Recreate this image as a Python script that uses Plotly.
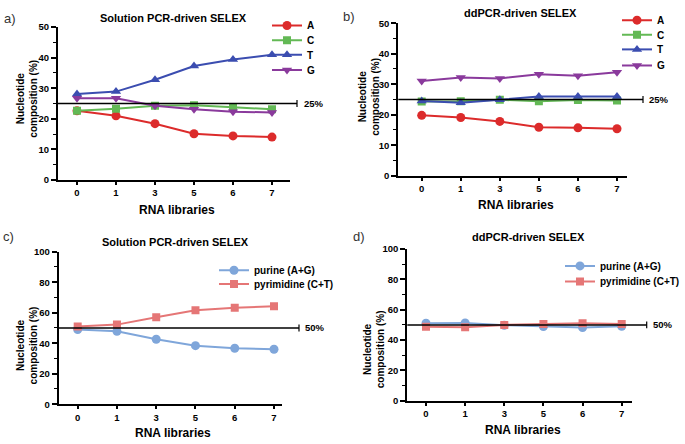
import plotly.graph_objects as go

W, H = 685, 444

libraries = ["0", "1", "3", "5", "6", "7"]

# Panel a: Solution PCR-driven SELEX, nucleotide composition (%)
sol_A = [22.6, 21.0, 18.4, 15.1, 14.4, 14.0]
sol_C = [22.6, 23.3, 24.3, 24.4, 23.8, 23.1]
sol_T = [28.1, 28.9, 32.8, 37.3, 39.4, 41.0]
sol_G = [26.7, 26.7, 24.3, 23.1, 22.3, 22.1]

# Panel b: ddPCR-driven SELEX
dd_A = [19.8, 19.1, 17.8, 15.9, 15.7, 15.4]
dd_C = [24.3, 24.4, 24.9, 24.4, 24.8, 24.7]
dd_T = [24.5, 23.9, 24.9, 26.0, 26.0, 26.0]
dd_G = [31.1, 32.2, 31.9, 33.3, 32.8, 33.9]

# Panel c: Solution PCR-driven, purine / pyrimidine
sol_pur = [49.0, 47.8, 42.6, 38.4, 36.7, 36.0]
sol_pyr = [51.0, 52.2, 57.1, 61.6, 63.3, 64.2]

# Panel d: ddPCR-driven, purine / pyrimidine
dd_pur = [51.1, 51.3, 49.8, 48.9, 48.3, 49.1]
dd_pyr = [48.7, 48.5, 50.0, 50.6, 51.1, 50.6]

ref_quarter = 25
ref_half = 50

FONT = "Liberation Sans, Arial, Helvetica, sans-serif"
COL = {"A": "#dc2b2b", "C": "#63b955", "T": "#3b4db0", "G": "#8a3a9c",
       "pur": "#7fa6da", "pyr": "#e57676"}


def fx(px):
    return px / W


def fy(py):
    return 1 - py / H


fig = go.Figure()

panels = [
    dict(ax="", x0=58, x1=290, top=21.7, bot=178.3, t0=77, t5=272,
         ymax=50, dtick=10, minor=5, ref=ref_quarter, refend=297, lab="25%", labx=302,
         title="Solution PCR-driven SELEX", titlex=173, titley=12,
         letter="a)", lx=2, ly=13, xtitley=209, ytx=27, yty=95,
         legx=288, legy=[20, 35, 50, 65.5]),
    dict(ax="2", x0=398.3, x1=627, top=17.7, bot=174, t0=421.7, t5=617,
         ymax=50, dtick=10, minor=5, ref=ref_quarter, refend=643, lab="25%", labx=647,
         title="ddPCR-driven SELEX", titlex=520, titley=7,
         letter="b)", lx=341, ly=11, xtitley=204, ytx=369, yty=93,
         legx=638, legy=[14.5, 29.5, 44.5, 61]),
    dict(ax="3", x0=58.7, x1=281.7, top=252, bot=408.3, t0=77.7, t5=274,
         ymax=100, dtick=20, minor=10, ref=ref_half, refend=299, lab="50%", labx=303,
         title="Solution PCR-driven SELEX", titlex=175, titley=242,
         letter="c)", lx=1, ly=236, xtitley=438, ytx=27, yty=348,
         legx=235, legy=[271, 285]),
    dict(ax="4", x0=407.3, x1=631.7, top=249.3, bot=404.7, t0=426, t5=621.7,
         ymax=100, dtick=20, minor=10, ref=ref_half, refend=646.7, lab="50%", labx=651,
         title="ddPCR-driven SELEX", titlex=528, titley=237,
         letter="d)", lx=351, ly=236, xtitley=435, ytx=374, yty=352,
         legx=581, legy=[266.5, 282.5]),
]

series = [
    [("A", sol_A, "circle", "A"), ("C", sol_C, "square", "C"),
     ("T", sol_T, "triangle-up", "T"), ("G", sol_G, "triangle-down", "G")],
    [("A", dd_A, "circle", "A"), ("C", dd_C, "square", "C"),
     ("T", dd_T, "triangle-up", "T"), ("G", dd_G, "triangle-down", "G")],
    [("purine (A+G)", sol_pur, "circle", "pur"), ("pyrimidine (C+T)", sol_pyr, "square", "pyr")],
    [("purine (A+G)", dd_pur, "circle", "pur"), ("pyrimidine (C+T)", dd_pyr, "square", "pyr")],
]

SIZES = {"circle": 9, "square": 8, "triangle-up": 9, "triangle-down": 9}

layout_extra = {}
shapes = []
annotations = []
leg_count = 0

for i, p in enumerate(panels):
    ax = p["ax"]
    unit = (p["t5"] - p["t0"]) / 5
    rng = [(p["x0"] - p["t0"]) / unit, (p["x1"] - p["t0"]) / unit]
    layout_extra["xaxis" + ax] = dict(
        domain=[fx(p["x0"]), fx(p["x1"])], anchor="y" + ax, type="category",
        categoryorder="array", categoryarray=libraries, range=rng,
        showline=True, linewidth=2, linecolor="black",
        ticks="outside", ticklen=3, tickwidth=1.5, tickcolor="black",
        showgrid=False, zeroline=False,
        tickfont=dict(family=FONT, size=9.5, color="black", weight="bold"),
    )
    layout_extra["yaxis" + ax] = dict(
        domain=[fy(p["bot"]), fy(p["top"])], anchor="x" + ax, range=[0, p["ymax"]],
        dtick=p["dtick"], tick0=0, showline=True, linewidth=2, linecolor="black",
        ticks="outside", ticklen=5, tickwidth=1.5, tickcolor="black",
        minor=dict(dtick=p["minor"], ticks="outside", ticklen=3, tickwidth=1.2, tickcolor="black"),
        showgrid=False, zeroline=False,
        tickfont=dict(family=FONT, size=9.5, color="black", weight="bold"),
    )
    for k, (name, vals, sym, ckey) in enumerate(series[i]):
        leg_count += 1
        legname = "legend" if leg_count == 1 else "legend%d" % leg_count
        c = COL[ckey]
        fig.add_trace(go.Scatter(
            x=libraries, y=vals, name=name, mode="lines+markers",
            line=dict(color=c, width=2), marker=dict(symbol=sym, size=SIZES[sym], color=c),
            xaxis="x" + ax, yaxis="y" + ax, legend=legname,
        ))
        layout_extra[legname] = dict(
            x=fx(p["legx"] - 21), y=fy(p["legy"][k]), xanchor="left", yanchor="middle",
            bgcolor="rgba(0,0,0,0)", borderwidth=0,
            font=dict(family=FONT, size=10, color="black", weight="bold"),
            itemwidth=30,
        )
    shapes.append(dict(type="line", xref="paper", yref="y" + ax,
                       x0=fx(p["x0"]), x1=fx(p["refend"]), y0=p["ref"], y1=p["ref"],
                       line=dict(color="black", width=1.5)))
    yref_px = p["bot"] - (p["bot"] - p["top"]) * p["ref"] / p["ymax"]
    shapes.append(dict(type="line", xref="paper", yref="paper",
                       x0=fx(p["refend"]), x1=fx(p["refend"]),
                       y0=fy(yref_px - 3.5), y1=fy(yref_px + 3.5),
                       line=dict(color="black", width=1.2)))
    annotations.append(dict(text=p["lab"], xref="paper", yref="paper",
                            x=fx(p["labx"]), y=fy(yref_px), xanchor="left", yanchor="middle",
                            showarrow=False,
                            font=dict(family=FONT, size=9.5, color="black", weight="bold")))
    annotations.append(dict(text=p["title"], xref="paper", yref="paper",
                            x=fx(p["titlex"]), y=fy(p["titley"]), xanchor="center", yanchor="middle",
                            showarrow=False,
                            font=dict(family=FONT, size=11, color="black", weight="bold")))
    annotations.append(dict(text=p["letter"], xref="paper", yref="paper",
                            x=fx(p["lx"]), y=fy(p["ly"]), xanchor="left", yanchor="middle",
                            showarrow=False,
                            font=dict(family=FONT, size=13, color="#333333")))
    annotations.append(dict(text="RNA libraries", xref="paper", yref="paper",
                            x=fx((p["x0"] + p["x1"]) / 2 + 3), y=fy(p["xtitley"]),
                            xanchor="center", yanchor="middle", showarrow=False,
                            font=dict(family=FONT, size=12, color="black", weight="bold")))
    annotations.append(dict(text="Nucleotide<br>composition (%)", xref="paper", yref="paper",
                            x=fx(p["ytx"]), y=fy(p["yty"]), xanchor="center", yanchor="middle",
                            textangle=-90, showarrow=False,
                            font=dict(family=FONT, size=10, color="black", weight="bold")))

fig.update_layout(
    width=W, height=H, margin=dict(l=0, r=0, t=0, b=0),
    paper_bgcolor="white", plot_bgcolor="white",
    showlegend=True, shapes=shapes, annotations=annotations,
    **layout_extra,
)

fig.write_html("out.html", config={"displayModeBar": False},
               post_script="document.body.style.margin='0px';")
